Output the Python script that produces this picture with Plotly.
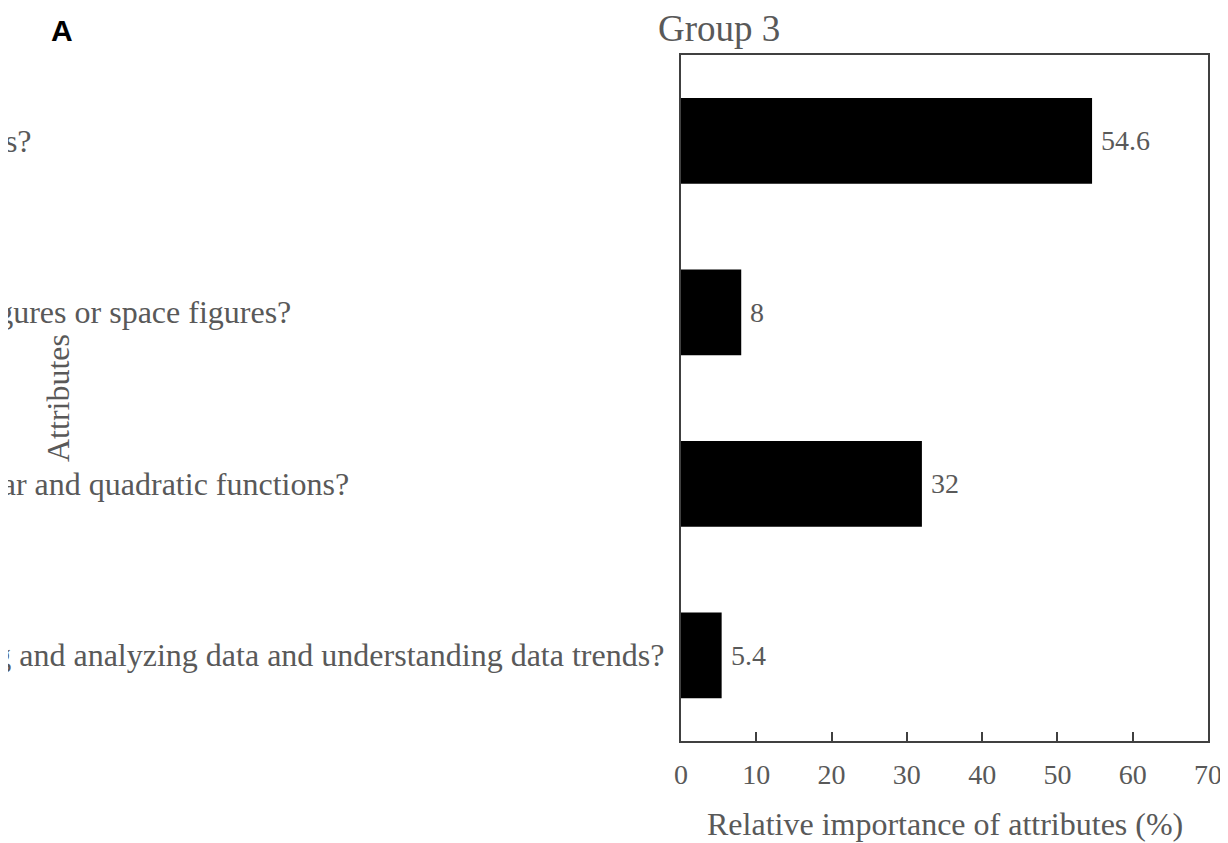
import plotly.graph_objects as go

# ---- data ----
attributes = [
    "Can students solve problems involving numbers, algebraic expressions and equations?",
    "Can students solve problems involving properties of plane figures or space figures?",
    "Can students solve problems involving linear and quadratic functions?",
    "Can students solve problems by collecting and analyzing data and understanding data trends?",
]
importance = [54.6, 8, 32, 5.4]
x_ticks = [0, 10, 20, 30, 40, 50, 60, 70]
title_text = "Group 3"
x_title = "Relative importance of attributes (%)"
y_title = "Attributes"
panel_label = "A"

# ---- layout constants (target-window pixel coordinates) ----
OFF = 8  # page body margin
WIN_W, WIN_H = 1228, 843
W, H = WIN_W - OFF, WIN_H - OFF
PLOT_L, PLOT_R, PLOT_T, PLOT_B = 681, 1208, 55, 741
ML, MR = PLOT_L - OFF, W - (PLOT_R - OFF)
MT, MB = PLOT_T - OFF, H - (PLOT_B - OFF)
PW, PH = PLOT_R - PLOT_L, PLOT_B - PLOT_T
GRAY = "#595959"
LINE = "#404040"
SERIF = "Liberation Serif, Times New Roman, serif"
label_right_px = [33, 292, 350, 665]


def px_x(px):
    return (px - PLOT_L) / PW


def px_y(py):
    return (PLOT_B - py) / PH


fig = go.Figure(
    go.Bar(
        x=importance,
        y=attributes,
        orientation="h",
        marker=dict(color="black", line=dict(width=0)),
        width=0.5,
        hoverinfo="x+y",
    )
)

annotations = []
# category labels (clipped at left like the reference)
for cat, rpx in zip(attributes, label_right_px):
    annotations.append(dict(
        x=px_x(rpx), xref="paper", y=cat, yref="y",
        xanchor="right", yanchor="middle", text=cat, showarrow=False,
        font=dict(family=SERIF, size=32, color=GRAY), borderpad=0,
    ))
# value labels
for cat, v in zip(attributes, importance):
    annotations.append(dict(
        x=v, xref="x", y=cat, yref="y", xanchor="left", yanchor="middle",
        xshift=8, text=f"{v:g}", showarrow=False,
        font=dict(family=SERIF, size=28, color=GRAY), borderpad=0,
    ))
# titles
annotations += [
    dict(x=px_x(719), y=px_y(28), xref="paper", yref="paper", text=title_text,
         showarrow=False, xanchor="center", yanchor="middle",
         font=dict(family=SERIF, size=37, color=GRAY)),
    dict(x=0.5, y=px_y(824), xref="paper", yref="paper", text=x_title,
         showarrow=False, xanchor="center", yanchor="middle",
         font=dict(family=SERIF, size=32, color=GRAY)),
    dict(x=px_x(58), y=px_y(398), xref="paper", yref="paper", text=y_title,
         showarrow=False, xanchor="center", yanchor="middle", textangle=-90,
         font=dict(family=SERIF, size=32, color=GRAY)),
    dict(x=px_x(62), y=px_y(31), xref="paper", yref="paper", text="<b>" + panel_label + "</b>",
         showarrow=False, xanchor="center", yanchor="middle",
         font=dict(family="Liberation Sans, Arial, sans-serif", size=30, color="black")),
]

fig.update_layout(
    width=W, height=H,
    margin=dict(l=ML, r=MR, t=MT, b=MB, autoexpand=False),
    paper_bgcolor="white", plot_bgcolor="white",
    showlegend=False,
    bargap=0.5,
    annotations=annotations,
    xaxis=dict(
        range=[0, 70], tickvals=x_ticks, ticktext=[str(t) for t in x_ticks],
        ticks="inside", ticklen=9, tickwidth=2, tickcolor=LINE,
        showline=True, linecolor=LINE, linewidth=2, mirror=True,
        showgrid=False, zeroline=False,
        tickfont=dict(family=SERIF, size=28, color=GRAY),
        ticklabelstandoff=7, automargin=False,
    ),
    yaxis=dict(
        categoryorder="array", categoryarray=attributes, autorange="reversed",
        showticklabels=False, ticks="",
        showline=True, linecolor=LINE, linewidth=2, mirror=True,
        showgrid=False, zeroline=False, automargin=False,
    ),
)

fig.write_html("out.html")
